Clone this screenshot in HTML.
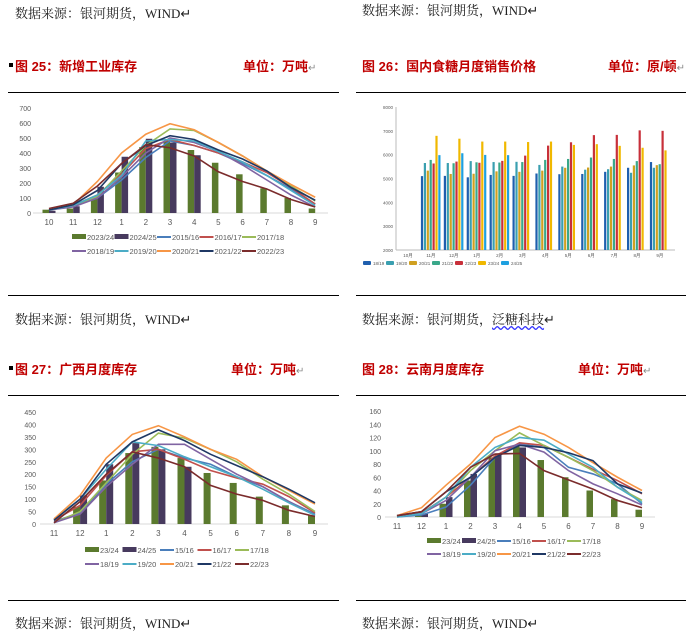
<!DOCTYPE html>
<html><head><meta charset="utf-8">
<style>
body{margin:0;width:690px;height:633px;background:#fff;position:relative;overflow:hidden;font-family:"Liberation Serif","Noto Serif CJK SC",serif;}
.t{position:absolute;font-size:13px;color:#222;white-space:nowrap;}
.h{position:absolute;font-size:13px;font-weight:bold;color:#c00000;white-space:nowrap;font-family:"Liberation Sans","Noto Sans CJK SC",sans-serif;}
.ln{position:absolute;height:1px;background:#000;}
.sq{position:absolute;width:4px;height:4px;background:#000;}
svg{position:absolute;left:0;top:0;}
</style></head><body>
<div class="t" style="left:15px;top:3px">数据来源：银河期货，WIND↵</div>
<div class="t" style="left:362px;top:0px">数据来源：银河期货，WIND↵</div>
<div class="sq" style="left:9px;top:63px"></div>
<div class="h" style="left:15px;top:56px">图 25：新增工业库存</div>
<div class="h" style="left:243px;top:56px">单位：万吨<span style="font-weight:normal;color:#888;font-size:10px">↵</span></div>
<div class="h" style="left:362px;top:56px">图 26：国内食糖月度销售价格</div>
<div class="h" style="left:608px;top:56px">单位：原/顿<span style="font-weight:normal;color:#888;font-size:10px">↵</span></div>
<div class="ln" style="left:8px;top:92px;width:331px"></div>
<div class="ln" style="left:356px;top:92px;width:330px"></div>
<div class="ln" style="left:8px;top:295px;width:331px"></div>
<div class="ln" style="left:356px;top:295px;width:330px"></div>
<div class="t" style="left:15px;top:309px">数据来源：银河期货，WIND↵</div>
<div class="t" style="left:362px;top:309px">数据来源：银河期货，<span style="text-decoration:underline wavy #33f">泛糖科技</span>↵</div>
<div class="sq" style="left:9px;top:366px"></div>
<div class="h" style="left:15px;top:359px">图 27：广西月度库存</div>
<div class="h" style="left:231px;top:359px">单位：万吨<span style="font-weight:normal;color:#888;font-size:10px">↵</span></div>
<div class="h" style="left:362px;top:359px">图 28：云南月度库存</div>
<div class="h" style="left:578px;top:359px">单位：万吨<span style="font-weight:normal;color:#888;font-size:10px">↵</span></div>
<div class="ln" style="left:8px;top:395px;width:331px"></div>
<div class="ln" style="left:356px;top:395px;width:330px"></div>
<div class="ln" style="left:8px;top:600px;width:331px"></div>
<div class="ln" style="left:356px;top:600px;width:330px"></div>
<div class="t" style="left:15px;top:613px">数据来源：银河期货，WIND↵</div>
<div class="t" style="left:362px;top:613px">数据来源：银河期货，WIND↵</div>
<svg id="s" width="690" height="633" xmlns="http://www.w3.org/2000/svg"></svg>
<script>
var S=document.getElementById('s'),o='';
var LC={a:'#4a7ebb',b:'#c0504d',c:'#9bbb59',d:'#8064a2',e:'#4bacc6',f:'#f79646',g:'#1f3864',h:'#7b2c2c'};
var G='#5b7a2e',P='#473a5e';
function txt(x,y,s,sz,anc,col){o+='<text x="'+x+'" y="'+y+'" font-size="'+sz+'" fill="'+(col||'#595959')+'" text-anchor="'+(anc||'middle')+'" font-family="Liberation Sans,sans-serif">'+s+'</text>';}
function chart(c){
 var yv=function(v){return c.y0-(v/c.max)*(c.y0-c.ytop);};
 for(var v=0;v<=c.max;v+=c.step){txt(c.lx,yv(v)+3,v,7,'end');}
 o+='<line x1="'+c.bx0+'" x2="'+c.bx1+'" y1="'+c.y0+'" y2="'+c.y0+'" stroke="#d9d9d9"/>';
 c.cats.forEach(function(k,i){txt(c.x0+i*c.dx,c.y0+12,k,8);});
 c.b1.forEach(function(v,i){var x=c.x0+i*c.dx;o+='<rect x="'+(x-c.bw)+'" y="'+yv(v)+'" width="'+c.bw+'" height="'+(c.y0-yv(v))+'" fill="'+G+'"/>';});
 c.b2.forEach(function(v,i){var x=c.x0+i*c.dx;o+='<rect x="'+x+'" y="'+yv(v)+'" width="'+c.bw+'" height="'+(c.y0-yv(v))+'" fill="'+P+'"/>';});
 'abcdefgh'.split('').forEach(function(k){var d=c.L[k];o+='<polyline fill="none" stroke="'+LC[k]+'" stroke-width="1.6" points="'+d.map(function(v,i){return (c.x0+i*c.dx)+','+yv(v);}).join(' ')+'"/>';});
 var names=c.names,cols=[G,P,LC.a,LC.b,LC.c,LC.d,LC.e,LC.f,LC.g,LC.h];
 for(var r=0;r<2;r++){var x=c.legx;for(var j=0;j<5;j++){var n=r*5+j,y=c.legy[r];
  if(n<2)o+='<rect x="'+x+'" y="'+(y-3)+'" width="14" height="5" fill="'+cols[n]+'"/>';
  else o+='<line x1="'+x+'" x2="'+(x+14)+'" y1="'+y+'" y2="'+y+'" stroke="'+cols[n]+'" stroke-width="2"/>';
  txt(x+15,y+3,names[n],7.5,'start');x+=c.legw;}}
}
chart({max:700,step:100,y0:213,ytop:108,lx:31,bx0:33,bx1:328,x0:49,dx:24.2,bw:6.5,
 cats:[10,11,12,1,2,3,4,5,6,7,8,9],
 b1:[22,30,95,270,440,480,420,335,258,165,100,30],b2:[15,45,175,375,495,470,385],
 L:{a:[20,45,100,220,370,480,450,400,330,250,160,60],b:[25,50,120,260,430,490,450,400,340,270,170,60],c:[20,45,110,280,450,560,550,470,380,280,180,80],d:[20,40,100,240,400,500,470,410,320,220,120,40],e:[20,50,120,250,480,490,480,410,340,250,150,50],f:[25,55,210,400,525,595,555,470,380,280,190,105],g:[20,55,150,330,450,515,490,420,360,280,170,85],h:[30,65,180,330,455,435,380,275,210,160,90,40]},
 names:['2023/24','2024/25','2015/16','2016/17','2017/18','2018/19','2019/20','2020/21','2021/22','2022/23'],legx:72,legy:[237,251],legw:42.5});
chart({max:450,step:50,y0:524,ytop:412,lx:36,bx0:40,bx1:328,x0:54,dx:26.1,bw:7,
 cats:[11,12,1,2,3,4,5,6,7,8,9],
 b1:[0,70,175,285,310,265,205,165,110,75,35],b2:[0,115,240,325,300,230],
 L:{a:[10,45,160,250,300,265,240,190,150,90,40],b:[15,75,195,290,300,260,215,185,160,110,45],c:[5,50,165,280,365,345,300,250,180,120,50],d:[5,40,150,240,320,320,260,200,150,90,35],e:[20,100,220,330,315,270,230,190,140,85,35],f:[20,115,265,360,395,350,300,260,190,135,80],g:[15,100,240,330,378,335,280,235,190,140,85],h:[5,90,200,290,265,230,155,120,95,55,30]},
 names:['23/24','24/25','15/16','16/17','17/18','18/19','19/20','20/21','21/22','22/23'],legx:85,legy:[550,564],legw:37.5});
chart({max:160,step:20,y0:517,ytop:411,lx:381,bx0:385,bx1:655,x0:397,dx:24.5,bw:6.5,
 cats:[11,12,1,2,3,4,5,6,7,8,9],
 b1:[0,3,20,55,90,108,86,60,40,27,11],b2:[0,5,30,65,95,105],
 L:{a:[0,3,15,48,90,110,105,75,65,50,20],b:[2,6,30,60,92,112,108,90,72,55,35],c:[1,5,30,70,100,127,108,90,70,45,25],d:[1,5,25,60,100,110,98,70,50,35,18],e:[0,5,30,75,105,120,116,95,75,45,22],f:[2,14,48,80,120,137,125,105,82,60,40],g:[2,8,38,60,90,108,105,97,85,50,36],h:[2,8,38,75,95,96,70,56,42,25,14]},
 names:['23/24','24/25','15/16','16/17','17/18','18/19','19/20','20/21','21/22','22/23'],legx:427,legy:[541,554],legw:35});
(function(){
 var y0=250,yt=107,yv=function(v){return y0-(v-2000)/6000*(y0-yt);};
 for(var v=2000;v<=8000;v+=1000)txt(393,yv(v)+2,v,4.5,'end');
 o+='<line x1="396" x2="396" y1="'+yt+'" y2="'+y0+'" stroke="#bbb"/><line x1="396" x2="675" y1="'+y0+'" y2="'+y0+'" stroke="#bbb"/>';
 var cols=['#1f5fae','#3a9fb0','#d0a020','#3aa88a','#c8303a','#f0b800','#1ea0e0'];
 var D=[[],[5100,5650,5330,5780,5630,6790,5980],[5110,5650,5190,5640,5710,6670,6060],[5050,5730,5200,5680,5660,6550,5990],[5150,5690,5300,5670,5740,6550,5980],[5110,5700,5280,5690,5960,6530],[5210,5570,5330,5780,6380,6550],[5180,5500,5450,5820,6520,6410],[5190,5370,5460,5880,6820,6440],[5280,5390,5500,5820,6830,6370],[5450,5240,5550,5730,7020,6290],[5690,5450,5560,5600,7000,6180]];
 var cats=['10月','11月','12月','1月','2月','3月','4月','5月','6月','7月','8月','9月'];
 var dx=22.9;
 cats.forEach(function(k,i){var cx=408+i*dx;txt(cx,y0+7,k,4.5);
  D[i].forEach(function(v,j){o+='<rect x="'+(cx-10+j*2.9)+'" y="'+yv(v)+'" width="2.2" height="'+(y0-yv(v))+'" fill="'+cols[j]+'"/>';});});
 var nm=['18/19','19/20','20/21','21/22','22/23','23/24','24/25'],x=363;
 nm.forEach(function(n,j){o+='<rect x="'+x+'" y="261" width="8" height="4" rx="1" fill="'+cols[j]+'"/>';txt(x+10,265,n,4.5,'start');x+=23;});
})();
S.innerHTML=o;
</script>
</body></html>
